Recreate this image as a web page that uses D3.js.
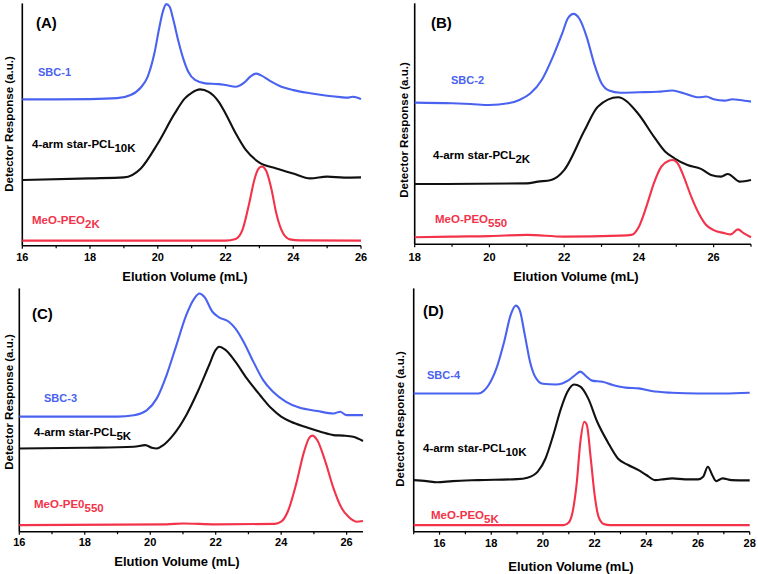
<!DOCTYPE html>
<html><head><meta charset="utf-8">
<script src="https://cdn.jsdelivr.net/npm/d3@7"></script>
<style>
html,body{margin:0;padding:0;background:#fff;}
text{font-family:"Liberation Sans",Arial,sans-serif;font-weight:bold;}
</style></head>
<body>
<svg id="chart" width="758" height="574"></svg>
<script>
// ---------- DATA (Elution volume mL, detector response a.u.) ----------
// Panel A
const A_blue_x = [16,17,18,18.8,19.2,19.5,19.7,19.9,20.05,20.15,20.25,20.35,20.45,20.6,20.75,20.9,21.1,21.4,21.8,22.0,22.3,22.55,22.75,22.9,23.05,23.3,23.6,24.0,24.5,25.0,25.4,25.6,25.75,25.9,26.0];
const A_blue_y = [60.4,60.4,60.5,60.9,62.2,65.3,69.7,79.4,90.4,96.6,99.7,98.6,93.8,84.9,77.3,71.8,68.4,67.0,66.7,66.3,65.6,67.3,70.0,71.0,70.3,68.1,65.9,64.2,62.9,61.9,61.3,61.1,61.5,61.1,60.5];
const A_black_x = [16,18,19,19.5,20,20.5,20.8,21,21.25,21.5,21.8,22,22.3,22.6,23,23.5,24,24.5,25,25.5,26];
const A_black_y = [27.1,27.8,28.2,31.9,42.2,54.6,60.8,63.1,64.5,63.5,59.4,54.6,46.4,39.5,34.3,31.9,29.8,27.8,28.5,28.1,28.2];
const A_red_x = [16,22.0,22.3,22.5,22.7,22.85,22.95,23.07,23.2,23.35,23.5,23.7,23.9,24.2,26];
const A_red_y = [2.1,2.1,2.8,6.5,17.5,27.1,31.2,32.7,30.9,23.7,13.3,5.1,2.6,2.2,2.1];
// Panel B
const B_blue_x = [18,19,19.5,20,20.5,20.8,21.1,21.4,21.7,21.95,22.1,22.25,22.4,22.6,22.8,23.0,23.2,23.5,24,24.5,24.9,25.2,25.6,25.8,26.0,26.3,26.5,26.7,27];
const B_blue_y = [58.8,58.5,58.2,57.8,58.5,59.9,62.7,68.2,77.9,87.6,93.8,95.6,93.8,86.2,75.1,66.8,63.8,62.9,63.1,63.3,63.8,62.7,61.0,61.3,60.2,59.6,60.2,59.9,59.2];
const B_black_x = [18,21,21.3,21.65,22.0,22.55,22.9,23.44,23.97,24.4,24.7,24.95,25.3,25.66,25.93,26.2,26.38,26.7,27];
const B_black_y = [25.0,25.3,26.0,26.7,30.8,47.4,57.1,61.0,54.4,44.7,38.5,35.7,32.9,31.3,28.8,28.1,29.2,26.0,26.7];
const B_red_x = [18,19,20,21,22,23.5,23.8,24.0,24.2,24.4,24.6,24.8,24.9,25.05,25.2,25.4,25.6,25.8,26.0,26.3,26.45,26.65,26.8,27.0];
const B_red_y = [2.9,3.2,3.4,3.9,3.2,3.6,3.9,7.3,15.6,25.3,32.2,34.7,35.0,33.3,28.1,19.8,12.9,8.0,5.9,4.6,4.1,6.2,4.6,2.9];
// Panel C
const C_blue_x = [16,19,19.5,19.9,20.2,20.5,20.8,21.1,21.35,21.5,21.65,21.9,22.1,22.4,22.6,22.85,23.15,23.45,23.75,24.15,24.55,25.1,25.6,25.8,26.0,26.2,26.5];
const C_blue_y = [47.3,47.3,47.9,50.0,54.8,64.4,76.7,89.0,95.9,97.9,96.6,90.4,88.1,86.3,83.6,78.1,69.9,62.3,57.5,53.4,51.0,49.6,48.6,49.3,47.9,47.9,47.9];
const C_black_x = [16,18,19.5,19.85,20.05,20.2,20.4,20.7,21.1,21.45,21.8,22.0,22.1,22.3,22.6,22.95,23.35,23.7,24.0,24.3,24.7,25.2,25.6,25.9,26.2,26.5];
const C_black_y = [34.2,34.5,34.9,35.6,34.5,34.2,35.6,39.7,47.9,57.5,68.5,74.7,76.0,74.7,69.9,63.0,56.2,50.7,47.3,45.2,43.2,41.1,39.7,39.5,39.0,37.3];
const C_red_x = [16,20.5,21,22,23.8,24.0,24.2,24.45,24.7,24.85,24.95,25.1,25.35,25.6,25.85,26.05,26.3,26.5];
const C_red_y = [2.7,3.0,3.4,3.0,3.2,4.1,8.2,19.2,32.9,38.4,39.5,37.7,28.8,17.8,9.6,6.2,4.1,4.4];
// Panel D
const D_blue_x = [15,17.5,17.7,17.9,18.2,18.5,18.75,18.95,19.1,19.3,19.5,19.7,20.0,20.5,21.0,21.25,21.45,21.65,21.9,22.3,22.7,23.2,23.7,24.2,25,26,27,28];
const D_blue_y = [56.8,56.8,57.8,60.3,67.1,78.1,89.0,92.9,91.1,80.8,69.9,63.7,60.8,60.5,62.3,64.4,65.8,64.1,62.1,61.6,60.3,59.2,58.9,57.8,57.1,56.8,56.8,57.1];
const D_black_x = [15,15.5,15.9,16.5,17.5,19.0,19.4,19.8,20.1,20.4,20.7,20.95,21.2,21.45,21.75,22.1,22.5,22.9,23.3,23.7,24.0,24.35,24.7,25.0,25.5,26.0,26.2,26.38,26.55,26.7,26.95,27.3,28];
const D_black_y = [21.2,20.8,20.3,20.8,21.2,21.6,22.2,24.7,30.1,39.7,50.7,57.5,60.5,59.6,54.8,45.2,37.0,30.1,27.4,25.3,23.3,21.2,21.6,21.9,21.5,21.5,22.6,26.7,23.3,20.8,21.9,21.2,21.1];
const D_red_x = [15,20.8,21.0,21.15,21.3,21.45,21.6,21.7,21.85,22.0,22.15,22.35,22.6,28];
const D_red_y = [2.7,2.7,3.8,8.2,19.2,37.0,45.2,43.8,30.1,15.1,6.2,3.2,2.7,2.7];

// Labels
const panelTags = ["(A)","(B)","(C)","(D)"];
const xDomains = [[16,26],[18,27],[16,26.5],[15,28]];
const sbcNames = ["SBC-1","SBC-2","SBC-3","SBC-4"];
const pclSubs = ["10K","2K","5K","10K"];
const peoMains = ["MeO-PEO","MeO-PEO","MeO-PE0","MeO-PEO"];
const peoSubs = ["2K","550","550","5K"];
const xTitle = "Elution Volume (mL)";
const yTitle = "Detector Response (a.u.)";

const seriesData = [
  [[A_blue_x,A_blue_y],[A_black_x,A_black_y],[A_red_x,A_red_y]],
  [[B_blue_x,B_blue_y],[B_black_x,B_black_y],[B_red_x,B_red_y]],
  [[C_blue_x,C_blue_y],[C_black_x,C_black_y],[C_red_x,C_red_y]],
  [[D_blue_x,D_blue_y],[D_black_x,D_black_y],[D_red_x,D_red_y]]
];
const colors = ["#4a62f0","#111111","#f2334a"];

// ---------- LAYOUT ----------
const layout = [
  {x0:22.3, x1:361, yb:245.7, yt:3.4, tag:[36,28], lab:[[38,76],[32,148],[32,224]], yt_x:9, yt_c:124, xt:[185,281], tick_y:261},
  {x0:414.7, x1:751, yb:244.3, yt:3.3, tag:[431,28], lab:[[451,84],[433,159],[435,223]], yt_x:404, yt_c:130, xt:[576,281], tick_y:261},
  {x0:19.3, x1:363, yb:531.7, yt:288.4, tag:[32,319], lab:[[44,402],[34,436],[34,508]], yt_x:9, yt_c:402, xt:[177,566], tick_y:546},
  {x0:413.7, x1:749.7, yb:531.7, yt:288.4, tag:[423,316], lab:[[427,379],[423,452],[431,519]], yt_x:400, yt_c:419, xt:[571,571], tick_y:547}
];

const svg = d3.select("#chart");

layout.forEach((L,i)=>{
  const g = svg.append("g");
  const x = d3.scaleLinear().domain(xDomains[i]).range([L.x0,L.x1]);
  const y = d3.scaleLinear().domain([0,100]).range([L.yb,L.yt]);

  // axes lines
  g.append("line").attr("x1",L.x0).attr("x2",L.x0).attr("y1",L.yt).attr("y2",L.yb)
    .attr("stroke","#000").attr("stroke-width",1.6);
  g.append("line").attr("x1",L.x0).attr("x2",L.x1).attr("y1",L.yb).attr("y2",L.yb)
    .attr("stroke","#000").attr("stroke-width",1.6);

  const [d0,d1] = xDomains[i];
  const majors = d3.range(Math.ceil(d0/2)*2, d1+0.001, 2);
  const minors = d3.range(Math.ceil(d0), d1+0.001, 1).filter(v=>v%2!==0);
  g.selectAll(".mt").data(majors).enter().append("line")
    .attr("x1",d=>x(d)).attr("x2",d=>x(d)).attr("y1",L.yb).attr("y2",L.yb+3)
    .attr("stroke","#000").attr("stroke-width",1.2);
  g.selectAll(".mn").data(minors).enter().append("line")
    .attr("x1",d=>x(d)).attr("x2",d=>x(d)).attr("y1",L.yb).attr("y2",L.yb+2.5)
    .attr("stroke","#000").attr("stroke-width",1.2);
  g.selectAll(".tl").data(majors).enter().append("text")
    .attr("x",d=>x(d)).attr("y",L.tick_y).attr("text-anchor","middle")
    .attr("font-size",11).attr("fill","#000").text(d=>d);

  // titles
  g.append("text").attr("x",L.xt[0]).attr("y",L.xt[1]).attr("text-anchor","middle")
    .attr("font-size",13).attr("fill","#000").text(xTitle);
  g.append("text").attr("transform",`translate(${L.yt_x+4},${L.yt_c}) rotate(-90)`)
    .attr("text-anchor","middle").attr("font-size",11.5).attr("fill","#000").text(yTitle);

  // curves
  const line = d3.line().x(d=>x(d[0])).y(d=>y(d[1])).curve(d3.curveMonotoneX);
  seriesData[i].forEach((s,k)=>{
    const pts = s[0].map((v,j)=>[v,s[1][j]]);
    g.append("path").datum(pts).attr("d",line).attr("fill","none")
      .attr("stroke",colors[k]).attr("stroke-width",2.1).attr("stroke-linejoin","round");
  });

  // labels
  g.append("text").attr("x",L.tag[0]).attr("y",L.tag[1]).attr("font-size",15)
    .attr("fill","#000").text(panelTags[i]);
  g.append("text").attr("x",L.lab[0][0]).attr("y",L.lab[0][1]).attr("font-size",11)
    .attr("fill",colors[0]).text(sbcNames[i]);
  const t1 = g.append("text").attr("x",L.lab[1][0]).attr("y",L.lab[1][1]).attr("font-size",11.5).attr("fill","#000");
  t1.append("tspan").text("4-arm star-PCL");
  t1.append("tspan").attr("dy",4).text(pclSubs[i]);
  const t2 = g.append("text").attr("x",L.lab[2][0]).attr("y",L.lab[2][1]).attr("font-size",11.5).attr("fill",colors[2]);
  t2.append("tspan").text(peoMains[i]);
  t2.append("tspan").attr("dy",4).text(peoSubs[i]);
});
</script>
</body></html>
